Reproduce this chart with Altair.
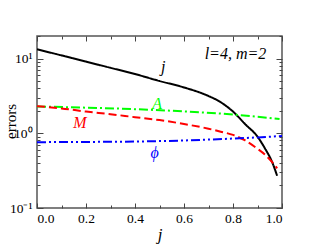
import altair as alt
import pandas as pd

# ---- data ----
j_grid = [0.0, 0.1, 0.2, 0.3, 0.4, 0.5, 0.6, 0.7, 0.75, 0.8, 0.85, 0.9, 0.93, 0.96, 0.98]
err_j = [13.3, 11.0, 9.1, 7.5, 6.2, 5.0, 4.1, 3.15, 2.6, 1.95, 1.32, 0.9, 0.63, 0.41, 0.27]
err_M = [2.3, 2.15, 1.95, 1.8, 1.64, 1.5, 1.33, 1.15, 1.05, 0.95, 0.8, 0.62, 0.52, 0.41, 0.34]

jA = [0.0, 0.2, 0.4, 0.6, 0.8, 0.99]
err_A = [2.28, 2.2, 2.1, 1.96, 1.78, 1.55]

jphi = [0.0, 0.2, 0.4, 0.6, 0.8, 0.9, 1.0]
err_phi = [0.76, 0.765, 0.775, 0.8, 0.85, 0.88, 0.92]

series_names = ["j", "A", "M", "phi"]
series_colors = ["black", "#00ff00", "#ff0000", "#0000ff"]
series_dash = [[1, 0], [9, 3, 2, 3], [8, 4], [9, 3, 2, 3, 2, 3]]

label_series = ["j", "A", "M", "phi"]
label_text = ["j", "A", "M", "\u03d5"]
label_x = [0.515, 0.49, 0.175, 0.48]
label_y = [7.7, 2.5, 1.36, 0.55]

note_text = ["l=4, m=2"]
note_x = [0.81]
note_y = [11.5]

x_ticks = [round(0.1 * i, 1) for i in range(11)]
x_labels = [0.0, 0.2, 0.4, 0.6, 0.8, 1.0]
y_ticks = [0.1, 0.2, 0.3, 0.4, 0.5, 0.6, 0.7, 0.8, 0.9,
           1, 2, 3, 4, 5, 6, 7, 8, 9, 10, 20]
y_labels = [0.1, 1, 10]

# ---- tables ----
rows = []
for x, v in zip(j_grid, err_j):
    rows.append({"series": "j", "jj": x, "err": v})
for x, v in zip(jA, err_A):
    rows.append({"series": "A", "jj": x, "err": v})
for x, v in zip(j_grid, err_M):
    rows.append({"series": "M", "jj": x, "err": v})
for x, v in zip(jphi, err_phi):
    rows.append({"series": "phi", "jj": x, "err": v})
df = pd.DataFrame(rows)

lab_df = pd.DataFrame({"series": label_series, "text": label_text, "jj": label_x, "err": label_y})
note_df = pd.DataFrame({"text": note_text, "jj": note_x, "err": note_y})

W, H = 245, 172
FONT = "'Liberation Serif', serif"
xs = alt.Scale(domain=[0, 1], nice=False, zero=False)
ys = alt.Scale(type="log", domain=[0.1, 20], nice=False)
cs = alt.Scale(domain=series_names, range=series_colors)
ds = alt.Scale(domain=series_names, range=series_dash)

x_main = alt.Axis(values=x_labels, format=".1f", ticks=False, domain=False, grid=False,
                  labelFont=FONT, labelFontSize=13.5, labelColor="black", labelPadding=3,
                  title="j", titleFont=FONT, titleFontStyle="italic", titleFontWeight="normal",
                  titleFontSize=17, titleColor="black",
                  titleX=W / 2, titleY=31, titleBaseline="alphabetic", titleAlign="center")
y_main = alt.Axis(values=y_labels, ticks=False, domain=False, grid=False,
                  labelExpr="datum.value == 10 ? '10\u00b9' : datum.value == 1 ? '10\u2070' : '10\u207b\u00b9'",
                  labelFont=FONT, labelFontSize=13.5, labelColor="black", labelPadding=5,
                  title="errors", titleFont=FONT, titleFontWeight="normal", titleFontSize=15,
                  titleColor="black", titleX=-22, titleY=H / 2 - 1, titleAngle=270,
                  titleBaseline="alphabetic", titleAlign="center")

xtick_size = {"condition": {"test": "round(datum.value*10) % 2 == 0", "value": 5}, "value": 3}
ytick_size = {"condition": {"test": "datum.value == 0.1 || datum.value == 1 || datum.value == 10", "value": 6}, "value": 3}


def tick_axis(values, orient, offset, size):
    return alt.Axis(values=values, orient=orient, offset=offset, labels=False, domain=False,
                    grid=False, ticks=True, tickSize=size, tickColor="#444", tickWidth=1, title=None)


lines = alt.Chart(df).mark_line(strokeWidth=2, clip=True, interpolate="monotone").encode(
    x=alt.X("jj:Q", scale=xs, axis=x_main),
    y=alt.Y("err:Q", scale=ys, axis=y_main),
    color=alt.Color("series:N", scale=cs, legend=None),
    strokeDash=alt.StrokeDash("series:N", scale=ds, legend=None),
    detail="series:N",
    order="jj:Q",
)

ticks1 = alt.Chart(df).mark_point(opacity=0).encode(
    x=alt.X("jj:Q", scale=xs, axis=tick_axis(x_ticks, "top", -H, xtick_size)),
    y=alt.Y("err:Q", scale=ys, axis=tick_axis(y_ticks, "right", -W, ytick_size)),
)
ticks2 = alt.Chart(df).mark_point(opacity=0).encode(
    x=alt.X("jj:Q", scale=xs, axis=tick_axis(x_ticks, "bottom", -H, xtick_size)),
    y=alt.Y("err:Q", scale=ys, axis=tick_axis(y_ticks, "left", -W, ytick_size)),
)

labels = alt.Chart(lab_df).mark_text(font=FONT, fontStyle="italic", fontSize=16,
                                     align="center", baseline="middle").encode(
    x=alt.X("jj:Q", scale=xs, axis=None),
    y=alt.Y("err:Q", scale=ys, axis=None),
    text="text:N",
    color=alt.Color("series:N", scale=cs, legend=None),
)

note = alt.Chart(note_df).mark_text(font=FONT, fontStyle="italic", fontSize=16,
                                    align="center", baseline="middle", color="black").encode(
    x=alt.X("jj:Q", scale=xs, axis=None),
    y=alt.Y("err:Q", scale=ys, axis=None),
    text="text:N",
)

chart = alt.layer(lines, ticks1, ticks2, labels, note).resolve_axis(
    x="independent", y="independent"
).properties(
    width=W, height=H,
    autosize=alt.AutoSizeParams(type="none"),
    padding={"left": 29, "top": 28, "right": 27, "bottom": 37},
).configure(font=FONT).configure_view(stroke="#555", strokeWidth=1.5)

chart.save("out.html", embed_options={"renderer": "svg", "actions": False})
